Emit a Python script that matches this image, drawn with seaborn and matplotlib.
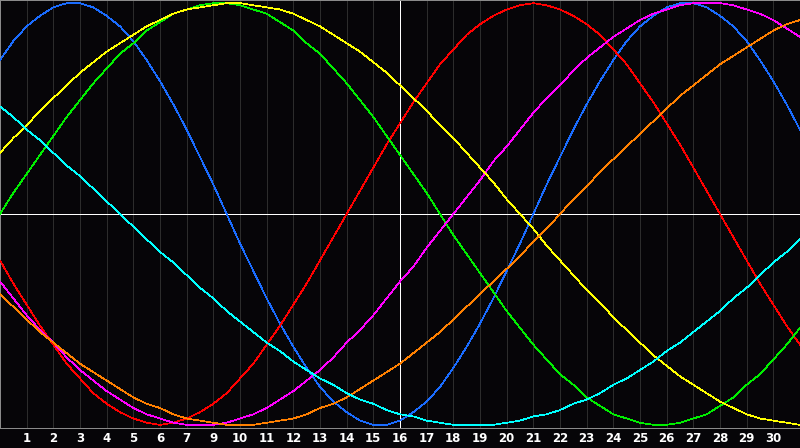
import matplotlib
matplotlib.use("Agg")
import matplotlib.pyplot as plt
import seaborn as sns
import pandas as pd

# Sample positions across the 30-day window (half-day steps, left edge = 0)
days = [d / 2 for d in range(61)]

# Curve values at each half-day step
physical = [0.73, 0.82, 0.89, 0.94, 0.98, 1.00, 1.00, 0.98, 0.94, 0.89,
            0.82, 0.73, 0.63, 0.52, 0.40, 0.27, 0.14, 0.00, -0.14, -0.27,
            -0.40, -0.52, -0.63, -0.73, -0.82, -0.89, -0.94, -0.98, -1.00, -1.00,
            -0.98, -0.94, -0.89, -0.82, -0.73, -0.63, -0.52, -0.40, -0.27, -0.14,
            0.00, 0.14, 0.27, 0.40, 0.52, 0.63, 0.73, 0.82, 0.89, 0.94,
            0.98, 1.00, 1.00, 0.98, 0.94, 0.89, 0.82, 0.73, 0.63, 0.52,
            0.40]
emotional = [-0.22, -0.33, -0.43, -0.53, -0.62, -0.71, -0.78, -0.85, -0.90, -0.94,
             -0.97, -0.99, -1.00, -0.99, -0.97, -0.94, -0.90, -0.85, -0.78, -0.71,
             -0.62, -0.53, -0.43, -0.33, -0.22, -0.11, 0.00, 0.11, 0.22, 0.33,
             0.43, 0.53, 0.62, 0.71, 0.78, 0.85, 0.90, 0.94, 0.97, 0.99,
             1.00, 0.99, 0.97, 0.94, 0.90, 0.85, 0.78, 0.71, 0.62, 0.53,
             0.43, 0.33, 0.22, 0.11, 0.00, -0.11, -0.22, -0.33, -0.43, -0.53,
             -0.62]
intellectual = [0.00, 0.10, 0.19, 0.28, 0.37, 0.46, 0.54, 0.62, 0.69, 0.76,
                0.81, 0.87, 0.91, 0.95, 0.97, 0.99, 1.00, 1.00, 0.99, 0.97,
                0.95, 0.91, 0.87, 0.81, 0.76, 0.69, 0.62, 0.54, 0.46, 0.37,
                0.28, 0.19, 0.10, 0.00, -0.10, -0.19, -0.28, -0.37, -0.46, -0.54,
                -0.62, -0.69, -0.76, -0.81, -0.87, -0.91, -0.95, -0.97, -0.99, -1.00,
                -1.00, -0.99, -0.97, -0.95, -0.91, -0.87, -0.81, -0.76, -0.69, -0.62,
                -0.54]
intuitive = [-0.32, -0.40, -0.48, -0.55, -0.61, -0.68, -0.74, -0.79, -0.84, -0.88,
             -0.92, -0.95, -0.97, -0.99, -1.00, -1.00, -1.00, -0.99, -0.97, -0.95,
             -0.92, -0.88, -0.84, -0.79, -0.74, -0.68, -0.61, -0.55, -0.48, -0.40,
             -0.32, -0.25, -0.16, -0.08, 0.00, 0.08, 0.16, 0.25, 0.32, 0.40,
             0.48, 0.55, 0.61, 0.68, 0.74, 0.79, 0.84, 0.88, 0.92, 0.95,
             0.97, 0.99, 1.00, 1.00, 1.00, 0.99, 0.97, 0.95, 0.92, 0.88,
             0.84]
aesthetic = [0.29, 0.36, 0.42, 0.49, 0.55, 0.61, 0.67, 0.72, 0.77, 0.81,
             0.85, 0.89, 0.92, 0.95, 0.97, 0.98, 0.99, 1.00, 1.00, 0.99,
             0.98, 0.97, 0.95, 0.92, 0.89, 0.85, 0.81, 0.77, 0.72, 0.67,
             0.61, 0.55, 0.49, 0.42, 0.36, 0.29, 0.22, 0.15, 0.07, 0.00,
             -0.07, -0.15, -0.22, -0.29, -0.36, -0.42, -0.49, -0.55, -0.61, -0.67,
             -0.72, -0.77, -0.81, -0.85, -0.89, -0.92, -0.95, -0.97, -0.98, -0.99,
             -1.00]
awareness = [-0.38, -0.44, -0.50, -0.56, -0.61, -0.66, -0.71, -0.75, -0.79, -0.83,
             -0.87, -0.90, -0.92, -0.95, -0.97, -0.98, -0.99, -1.00, -1.00, -1.00,
             -0.99, -0.98, -0.97, -0.95, -0.92, -0.90, -0.87, -0.83, -0.79, -0.75,
             -0.71, -0.66, -0.61, -0.56, -0.50, -0.44, -0.38, -0.32, -0.26, -0.20,
             -0.13, -0.07, 0.00, 0.07, 0.13, 0.20, 0.26, 0.32, 0.38, 0.44,
             0.50, 0.56, 0.61, 0.66, 0.71, 0.75, 0.79, 0.83, 0.87, 0.90,
             0.92]
spiritual = [0.51, 0.46, 0.40, 0.35, 0.29, 0.23, 0.18, 0.12, 0.06, 0.00,
             -0.06, -0.12, -0.18, -0.23, -0.29, -0.35, -0.40, -0.46, -0.51, -0.56,
             -0.61, -0.65, -0.70, -0.74, -0.78, -0.81, -0.85, -0.88, -0.90, -0.93,
             -0.95, -0.96, -0.98, -0.99, -1.00, -1.00, -1.00, -1.00, -0.99, -0.98,
             -0.96, -0.95, -0.93, -0.90, -0.88, -0.85, -0.81, -0.78, -0.74, -0.70,
             -0.65, -0.61, -0.56, -0.51, -0.46, -0.40, -0.35, -0.29, -0.23, -0.18,
             -0.12]

series_names = ["physical", "emotional", "intellectual", "intuitive",
                "aesthetic", "awareness", "spiritual"]
series_values = [physical, emotional, intellectual, intuitive,
                 aesthetic, awareness, spiritual]
series_colors = ["#1a6cff", "#ff0000", "#00ee00", "#ff00ff",
                 "#ffff00", "#ff8000", "#00ffff"]

tick_positions = list(range(1, 30))
tick_labels = ["1", "2", "3", "4", "5", "6", "7", "9", "10", "11", "12", "13",
               "14", "15", "16", "17", "18", "19", "20", "21", "22", "23", "24",
               "25", "26", "27", "28", "29", "30"]
today_pos = 15

rows = []
for name, vals in zip(series_names, series_values):
    for d, v in zip(days, vals):
        rows.append({"day": d, "value": v, "series": name})
df = pd.DataFrame(rows)

sns.set_theme(style="dark")
plt.rcParams["font.family"] = ["DejaVu Sans"]

bg = "#060508"
fig = plt.figure(figsize=(8, 4.48), dpi=100, facecolor=bg)
ax = fig.add_axes([0.0, 20 / 448, 1.0, 428 / 448])
ax.set_facecolor(bg)

for x in tick_positions:
    ax.axvline(x, color="#2c2c2c", lw=0.72, antialiased=False, zorder=1)
ax.axvline(today_pos, color="white", lw=0.72, antialiased=False, zorder=2)
ax.axhline(0, color="white", lw=0.72, antialiased=False, zorder=2)

sns.lineplot(data=df, x="day", y="value", hue="series", hue_order=series_names,
             palette=dict(zip(series_names, series_colors)), linewidth=0.5,
             legend=False, ax=ax, zorder=3, antialiased=False)

ax.set_xlim(0, 30)
ax.set_ylim(-1.015, 1.015)
ax.set_xticks(tick_positions)
ax.set_xticklabels(tick_labels, color="white", fontsize=8.5, fontweight="bold")
ax.set_yticks([])
ax.tick_params(axis="x", length=0, pad=3)
ax.set_xlabel("")
ax.set_ylabel("")
ax.grid(False)
for side in ["top", "left", "right", "bottom"]:
    ax.spines[side].set_visible(True)
    ax.spines[side].set_color("#8a8a8a")
    ax.spines[side].set_linewidth(0.72)

fig.savefig("out.png", dpi=100, facecolor=bg)
